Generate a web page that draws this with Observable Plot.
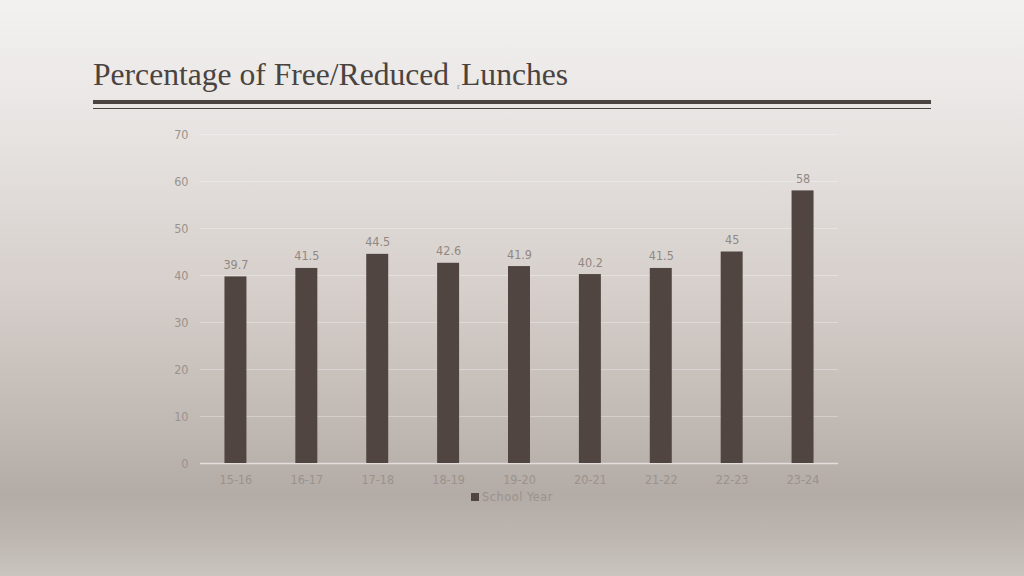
<!DOCTYPE html>
<html>
<head>
<meta charset="utf-8">
<script src="https://cdn.jsdelivr.net/npm/d3@7"></script>
<script src="https://cdn.jsdelivr.net/npm/@observablehq/plot@0.6"></script>
<style>
  html, body { margin: 0; padding: 0; }
  body {
    width: 1024px; height: 576px; overflow: hidden; position: relative;
    background: linear-gradient(to bottom, #f3f2f1 0%, #e6e2e0 25%, #d6cfcb 50%, #c2bab5 72%, #b3aba6 86%, #bcb5b0 93%, #cac5bf 100%);
    font-family: "DejaVu Sans Condensed", "DejaVu Sans", sans-serif;
  }
  #title {
    position: absolute; left: 93px; top: 57px;
    font-family: "Liberation Serif", "DejaVu Serif", serif;
    font-size: 31.6px; color: #4a4340; white-space: nowrap;
  }
  #title .stray { font-size: 9px; color: #9a938e; vertical-align: -4px; margin-right: 1px; }
  #rule1 { position: absolute; left: 93px; top: 100px; width: 838px; height: 4px; background: #4a4340; }
  #rule2 { position: absolute; left: 93px; top: 108px; width: 838px; height: 1px; background: #4a4340; }
  #chart { position: absolute; left: 0; top: 120px; }
  #legend {
    position: absolute; left: 0; width: 1024px; top: 489px; text-align: center;
    font-size: 12.5px; color: #9a928c; letter-spacing: 0.6px;
  }
  #legend .sw { display: inline-block; width: 8px; height: 8px; background: #514541; margin-right: 3px; vertical-align: 0px; }
</style>
</head>
<body>
<div id="title">Percentage of Free/Reduced <span class="stray">r</span>Lunches</div>
<div id="rule1"></div>
<div id="rule2"></div>
<div id="chart"></div>
<div id="legend"><span class="sw"></span>School Year</div>
<script>
const years = ["15-16", "16-17", "17-18", "18-19", "19-20", "20-21", "21-22", "22-23", "23-24"];
const values = [39.7, 41.5, 44.5, 42.6, 41.9, 40.2, 41.5, 45, 58];
const yTicks = [0, 10, 20, 30, 40, 50, 60, 70];
const seriesName = "School Year";

const data = years.map((y, i) => ({year: y, value: values[i]}));

const chart = Plot.plot({
  width: 1024,
  height: 400,
  marginLeft: 200,
  marginRight: 186,
  marginTop: 14,
  marginBottom: 57,
  style: {background: "transparent", fontFamily: "'DejaVu Sans Condensed', 'DejaVu Sans', sans-serif", fontSize: "12.5px", color: "#9a928c"},
  x: {domain: years, paddingInner: 0.69, paddingOuter: 0.345, round: false, label: null},
  y: {domain: [0, 70], ticks: yTicks, label: null},
  marks: [
    Plot.gridY(yTicks.filter(d => d > 0), {stroke: "#ffffff", strokeOpacity: 0.3, strokeWidth: 1}),
    Plot.ruleY([0], {stroke: "#e3dedb", strokeWidth: 1.5}),
    Plot.barY(data, {x: "year", y: "value", fill: "#514541"}),
    Plot.text(data, {x: "year", y: "value", text: d => String(d.value), dy: -12, fill: "#908882", fontSize: 12.5}),
    Plot.axisY({ticks: yTicks, tickSize: 0, tickPadding: 12, fill: "#9a928c", fontSize: 12.5}),
    Plot.axisX({tickSize: 0, tickPadding: 12, fill: "#9a928c", fontSize: 12.5})
  ]
});
document.getElementById("chart").appendChild(chart);
</script>
</body>
</html>
